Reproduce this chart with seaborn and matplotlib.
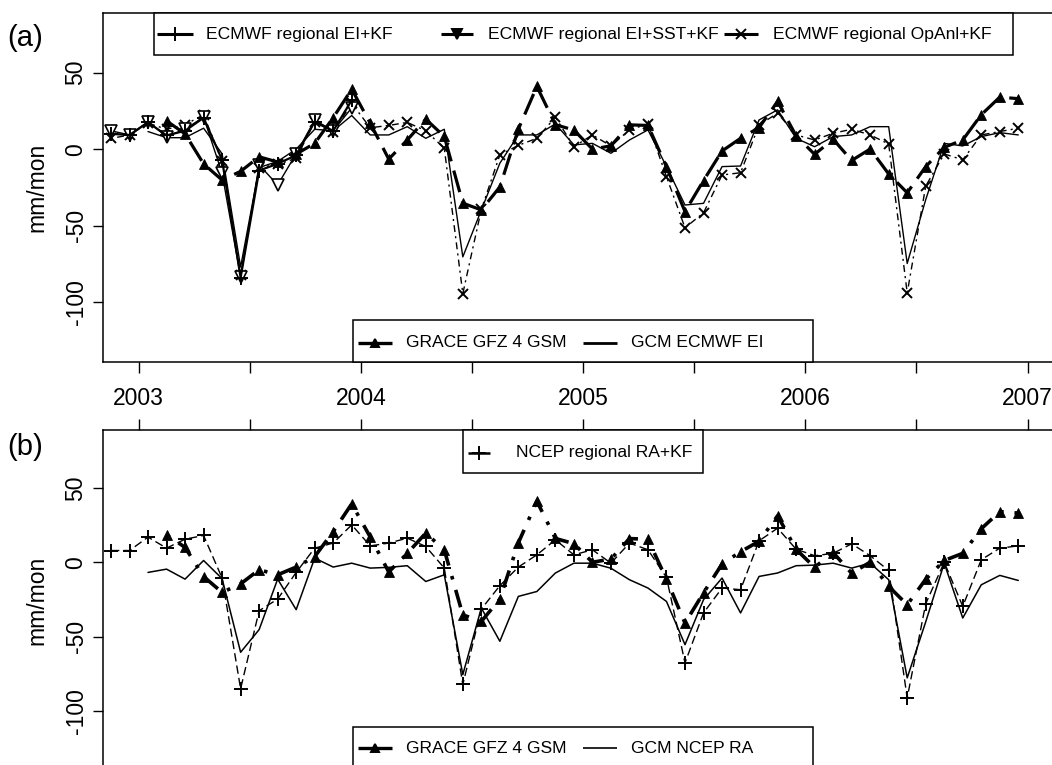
import numpy as np
import pandas as pd
import matplotlib
matplotlib.use("Agg")
import matplotlib.pyplot as plt
from matplotlib.lines import Line2D
from matplotlib.patches import Rectangle
import seaborn as sns

# ---------------- data (mm/mon), monthly, Nov 2002 .. Dec 2006 ----------------
months = pd.period_range("2002-11", "2006-12", freq="M")
t_all = np.array([p.year + (p.month - 0.5) / 12 for p in months])

# GRACE GFZ 4 GSM, Feb 2003 .. Dec 2006
grace = [18.5, 10, -9.6, -20.2, -14.5, -5, -8.4, -3.2, 3.8, 20.6,
         39.2, 17, -6.5, 6, 19.6, 8.3, -35.3, -39.7, -24.7, 13.1,
         41, 16, 12.5, 0, 2.2, 15.9, 15.5, -11.5, -40.8, -20.5,
         -1.2, 7.1, 14.1, 31.2, 8.7, -3.4, 6.5, -7.4, 0.1, -16.2,
         -28.5, -11.4, 1.2, 6, 22.5, 34, 33]
# GCM ECMWF EI, Jan 2003 .. Dec 2006
gcm_ecmwf = [11.5, 7.5, 7.5, 13.7, -3, -77, -12, -8, 0, 13,
             12, 22, 9.3, 9.3, 14.7, 7.1, 13, -70.4, -39.8, -9.2,
             9.3, 9.3, 16.5, 2.8, 3.8, -2.7, 6, 12.6, -11.4, -36.5,
             -35.4, -11.4, -11, 19.1, 25.7, 7.1, 1.6, 8.2, 9.3, 14.7,
             14.7, -74.7, -33, 3.8, 2.1, 8.2, 10.8, 9.3]
# ECMWF regional EI+KF, Nov 2002 .. Dec 2003
ecmwf_ei_kf = [10, 9.3, 17.5, 9, 12, 20.5, -7, -84, -14, -9.5, -4, 18, 12, 32]
# ECMWF regional EI+SST+KF, Nov 2002 .. Dec 2003
ecmwf_ei_sst_kf = [12, 9.3, 18, 8.2, 13, 21, -15.8, -83.5, -10.3, -23.4, -3, 19, 12, 27]
# ECMWF regional OpAnl+KF, Nov 2002 .. Dec 2006
ecmwf_opanl_kf = [7, 9.3, 17, 13, 16, 22.5, -8, -82, -12, -10,
                  -6, 18, 11, 30, 14, 15.5, 17.5, 12, 0.6, -94.4,
                  -39.4, -3.8, 2.5, 7.1, 20.9, 1.6, 9.3, 2.1, 12.6, 16.5,
                  -18, -51.4, -41.6, -16.9, -15.4, 15.8, 23.5, 9.3, 6, 10.4,
                  13, 9.3, 3.4, -94, -24.1, -3.1, -7, 9.3, 11.5, 13.7]
# NCEP regional RA+KF, Nov 2002 .. Dec 2006
ncep_ra_kf = [7.9, 7.9, 16.9, 9.5, 15.5, 18, -10.6, -84.9, -32.5, -24.7,
              -6.8, 9.5, 12.9, 25.1, 11, 12.9, 16.2, 10.6, -3.9, -82,
              -31.4, -15.7, -3.2, 5, 15.1, 5, 8.4, -0.6, 12.9, 8.4,
              -10.2, -67.5, -34, -17.3, -18.4, 14.4, 22.9, 8.8, 4.4, 6,
              12.4, 4.4, -5.5, -91, -27.8, 0, -29.6, 1.7, 9.5, 11]
# GCM NCEP RA, Jan 2003 .. Dec 2006
gcm_ncep = [-6.8, -4.6, -11.3, 1.2, -11, -60.4, -45.2, -11.3, -31.8, 2.8,
            -3.2, -0.6, -3.9, -3.4, -2.3, -12.9, -8.4, -75.4, -30.7, -53,
            -22.9, -19.6, -7.2, -0.6, -0.6, -4, -11.7, -17.3, -26.3, -55.3,
            -25.1, -10.6, -34, -9.5, -7.2, -2.3, -1.9, -0.6, -3.9, -0.6,
            -11.7, -77.6, -40, -0.6, -37.4, -15.1, -8.8, -12.2]

year_ticks = [2003, 2004, 2005, 2006, 2007]
half_ticks = [2003.5, 2004.5, 2005.5, 2006.5]
y_ticks = [-100, -50, 0, 50]

legend_a_top = ["ECMWF regional EI+KF", "ECMWF regional EI+SST+KF", "ECMWF regional OpAnl+KF"]
legend_a_bot = ["GRACE GFZ 4 GSM", "GCM ECMWF EI"]
legend_b_top = ["NCEP regional RA+KF"]
legend_b_bot = ["GRACE GFZ 4 GSM", "GCM NCEP RA"]


def times(start, n):
    i0 = list(months).index(pd.Period(start, freq="M"))
    return t_all[i0:i0 + n]


# ---------------- styling ----------------
sns.set_theme(style="white")
plt.rcParams["font.family"] = ["Liberation Sans", "DejaVu Sans"]
plt.rcParams["axes.edgecolor"] = "black"

W, H = 1052, 765
fig = plt.figure(figsize=(W / 100, H / 100), dpi=100)
fig.patch.set_facecolor("white")


def fx(px):
    return px / W


def fy(py):
    return 1 - py / H


ax_a = fig.add_axes([fx(103), fy(362.3), (1062 - 103) / W, (362.3 - 13.3) / H])
ax_b = fig.add_axes([fx(103), fy(769.8), (1062 - 103) / W, (769.8 - 430) / H])

XL = (2002.839, 2007.155)
YL = (-139.3, 88.8)
TICK_FS = 16.5
LEG_FS = 12.6


def line(ax, t, v, **kw):
    base = dict(color="black", legend=False, sort=False, errorbar=None)
    base.update(kw)
    sns.lineplot(x=t, y=v, ax=ax, **base)


# ---- panel (a)
ax = ax_a
line(ax, times("2003-01", len(gcm_ecmwf)), gcm_ecmwf, lw=1.0)
line(ax, times("2002-11", len(ecmwf_opanl_kf)), ecmwf_opanl_kf, lw=1.0,
     linestyle=(0, (1.5, 3, 5, 3)), marker="x", ms=7, mec="black", mew=1.4)
line(ax, times("2002-11", len(ecmwf_ei_sst_kf)), ecmwf_ei_sst_kf, lw=1.0,
     marker="v", ms=8, mec="black", mfc="white", mew=1.2)
line(ax, times("2002-11", len(ecmwf_ei_kf)), ecmwf_ei_kf, lw=1.6,
     marker="+", ms=10, mec="black", mew=1.4)
line(ax, times("2003-02", len(grace)), grace, lw=2.3,
     linestyle=(0, (7, 3)), marker="^", ms=6.5, mec="black", mfc="black", mew=0.6)

# ---- panel (b)
ax = ax_b
line(ax, times("2003-01", len(gcm_ncep)), gcm_ncep, lw=1.1)
line(ax, times("2002-11", len(ncep_ra_kf)), ncep_ra_kf, lw=1.0,
     linestyle=(0, (6, 3)), marker="+", ms=10, mec="black", mew=1.4)
line(ax, times("2003-02", len(grace)), grace, lw=2.6,
     linestyle=(0, (1, 3, 5, 3)), marker="^", ms=6.5, mec="black", mfc="black", mew=0.6)

for ax in (ax_a, ax_b):
    ax.set_xlim(*XL)
    ax.set_ylim(*YL)
    ax.set_xlabel("")
    ax.set_ylabel("mm/mon", fontsize=TICK_FS, color="black")
    ax.yaxis.set_label_coords((48.9 - 103) / (1062 - 103), 0.5)
    ax.set_yticks(y_ticks)
    ax.set_yticklabels([str(v) for v in y_ticks], fontsize=TICK_FS, rotation=90, va="center")
    ax.tick_params(axis="y", direction="out", length=7.2, width=1.0, pad=3.9,
                   colors="black", left=True)
    for s in ax.spines.values():
        s.set_linewidth(1.1)
        s.set_color("black")
    ax.grid(False)
    ax.set_facecolor("white")

xt = sorted(year_ticks + half_ticks)
ax_a.set_xticks(xt)
ax_a.set_xticklabels([])
ax_a.tick_params(axis="x", direction="out", length=7.9, width=1.0, bottom=True,
                 labelbottom=False, colors="black")
ax_b.set_xticks(xt)
ax_b.set_xticklabels([str(int(v)) if v in year_ticks else "" for v in xt], fontsize=TICK_FS)
ax_b.tick_params(axis="x", direction="out", length=7.9, width=1.0, bottom=False, top=True,
                 labelbottom=False, labeltop=True, pad=6.8, colors="black")

# ---------------- manual R-style legends ----------------
def box(x0, y0, x1, y1):
    fig.add_artist(Rectangle((fx(x0), fy(y1)), fx(x1) - fx(x0), fy(y0) - fy(y1),
                             transform=fig.transFigure, facecolor="white",
                             edgecolor="black", lw=1.1, zorder=5))


def item(x0, x1, y, tx, label, marker=None, lw=2.2, ms=7, mfc="black", mew=1.4):
    fig.add_artist(Line2D([fx(x0), fx(x1)], [fy(y), fy(y)], transform=fig.transFigure,
                          color="black", lw=lw, zorder=6, solid_capstyle="butt"))
    if marker:
        fig.add_artist(Line2D([fx((x0 + x1) / 2)], [fy(y)], transform=fig.transFigure,
                              color="black", marker=marker, ms=ms, mfc=mfc, mec="black",
                              mew=mew, lw=0, zorder=7))
    fig.text(fx(tx), fy(y), label, fontsize=LEG_FS, ha="left", va="center", zorder=8,
             color="black")


# panel (a) top legend
box(153.8, 13.3, 1012.5, 55)
item(157, 193, 34, 206, legend_a_top[0], marker="+", ms=10)
item(441, 473, 34, 488.5, legend_a_top[1], marker="v", ms=7)
item(723.6, 757.5, 34, 772.8, legend_a_top[2], marker="x", ms=7)
# panel (a) bottom legend
box(353.3, 320, 812.5, 362.3)
item(358.4, 392.2, 342.7, 405.7, legend_a_bot[0], marker="^", ms=6, lw=2.4)
item(582.8, 616.7, 342.7, 631.3, legend_a_bot[1], lw=2.0)
# panel (b) top legend
box(463, 430, 702.5, 472.7)
item(468.2, 490.2, 452.7, 515.6, legend_b_top[0], marker="+", ms=10, lw=1.8)
# panel (b) bottom legend
box(353.3, 726.7, 812.5, 772)
item(358.4, 392.2, 748.3, 405.7, legend_b_bot[0], marker="^", ms=6, lw=2.4)
item(582.8, 616.7, 748.3, 631.3, legend_b_bot[1], lw=1.2)

# panel labels
fig.text(fx(25), fy(38), "(a)", fontsize=21, ha="center", va="center", color="black")
fig.text(fx(25), fy(446.7), "(b)", fontsize=21, ha="center", va="center", color="black")

fig.savefig("out.png", dpi=100, facecolor="white")
